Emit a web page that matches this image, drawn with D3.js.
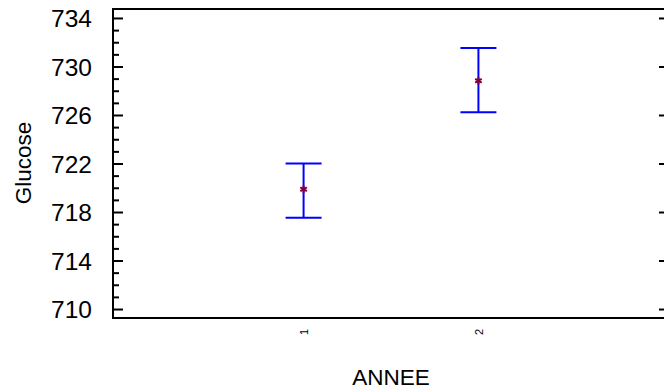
<!DOCTYPE html>
<html>
<head>
<meta charset="utf-8">
<script src="https://cdn.jsdelivr.net/npm/d3@7"></script>
<style>
  html, body { margin: 0; padding: 0; background: #fff; }
  svg { display: block; }
  text { font-family: Arial, "Liberation Sans", Helvetica, sans-serif; fill: #000; }
</style>
</head>
<body>
<svg id="chart" width="664" height="390"></svg>
<script>
// Data
const categories = ["1", "2"];
const categoryPositions = [1, 2];
const means = [719.87, 728.83];
const lowerLimits = [717.53, 726.22];
const upperLimits = [722.0, 731.53];
const yTickValues = [710, 714, 718, 722, 726, 730, 734];
const yLabel = "Glucose";
const xLabel = "ANNEE";

(function () {
const svg = d3.select("#chart");
const mLeft = 113, mRight = 669, mTop = 9, mBottom = 318;

const x = d3.scaleLinear().domain([-0.09, 3.09]).range([mLeft, mRight]);
const y = d3.scaleLinear().domain([709.26, 734.74]).range([mBottom, mTop]);

// Left axis with major ticks
const yAxis = d3.axisLeft(y).tickValues(yTickValues).tickSize(-10).tickPadding(21).tickFormat(d3.format("d"));
const gy = svg.append("g").attr("transform", `translate(${mLeft},0)`).call(yAxis);
gy.select(".domain").remove();
gy.selectAll(".tick line").attr("stroke", "#000").attr("stroke-width", 2);
gy.selectAll(".tick text").style("font-size", "24.5px").attr("fill", "#000").attr("dy", "0.36em");

// Minor ticks on left
const minorVals = d3.range(710, 735, 1).filter(v => !yTickValues.includes(v));
const gyMinor = svg.append("g").attr("transform", `translate(${mLeft},0)`)
  .call(d3.axisLeft(y).tickValues(minorVals).tickSize(-6).tickFormat(""));
gyMinor.select(".domain").remove();
gyMinor.selectAll(".tick line").attr("stroke", "#000").attr("stroke-width", 2);

// Right axis major ticks (inward)
const gr = svg.append("g").attr("transform", `translate(${mRight},0)`)
  .call(d3.axisRight(y).tickValues(yTickValues).tickSize(-10).tickFormat(""));
gr.select(".domain").remove();
gr.selectAll(".tick line").attr("stroke", "#000").attr("stroke-width", 2);

// Frame
svg.append("rect")
  .attr("x", mLeft).attr("y", mTop)
  .attr("width", mRight - mLeft).attr("height", mBottom - mTop)
  .attr("fill", "none").attr("stroke", "#000").attr("stroke-width", 2);

// X tick labels (rotated)
const gx = svg.append("g").attr("transform", `translate(0,${mBottom})`)
  .call(d3.axisBottom(x).tickValues(categoryPositions).tickSize(0).tickFormat((d, i) => categories[i]));
gx.select(".domain").remove();
gx.selectAll(".tick text")
  .style("font-size", "11px")
  .attr("y", 0).attr("dy", null)
  .attr("text-anchor", "middle")
  .attr("dominant-baseline", "central")
  .attr("transform", "translate(0,14) rotate(-90)");

// Error bars
const capHalf = 18;
const bars = svg.append("g");
categoryPositions.forEach((c, i) => {
  const cx = x(c);
  bars.append("line").attr("x1", cx).attr("x2", cx)
    .attr("y1", y(lowerLimits[i])).attr("y2", y(upperLimits[i]))
    .attr("stroke", "#0000ff").attr("stroke-width", 2);
  [lowerLimits[i], upperLimits[i]].forEach(v => {
    bars.append("line").attr("x1", cx - capHalf).attr("x2", cx + capHalf)
      .attr("y1", y(v)).attr("y2", y(v))
      .attr("stroke", "#0000ff").attr("stroke-width", 2);
  });
});

// Mean markers
svg.append("g").selectAll("path")
  .data(means)
  .join("path")
  .attr("transform", (d, i) => `translate(${x(categoryPositions[i])},${y(d)})`)
  .attr("d", d3.symbol(d3.symbolAsterisk, 40))
  .attr("fill", "none")
  .attr("stroke", "#80003f")
  .attr("stroke-width", 2);

// Axis titles
svg.append("text")
  .attr("transform", `translate(31,163) rotate(-90)`)
  .attr("text-anchor", "middle")
  .style("font-size", "22.5px")
  .text(yLabel);

svg.append("text")
  .attr("x", 391).attr("y", 385)
  .attr("text-anchor", "middle")
  .style("font-size", "22.5px")
  .text(xLabel);
})();
</script>
</body>
</html>
